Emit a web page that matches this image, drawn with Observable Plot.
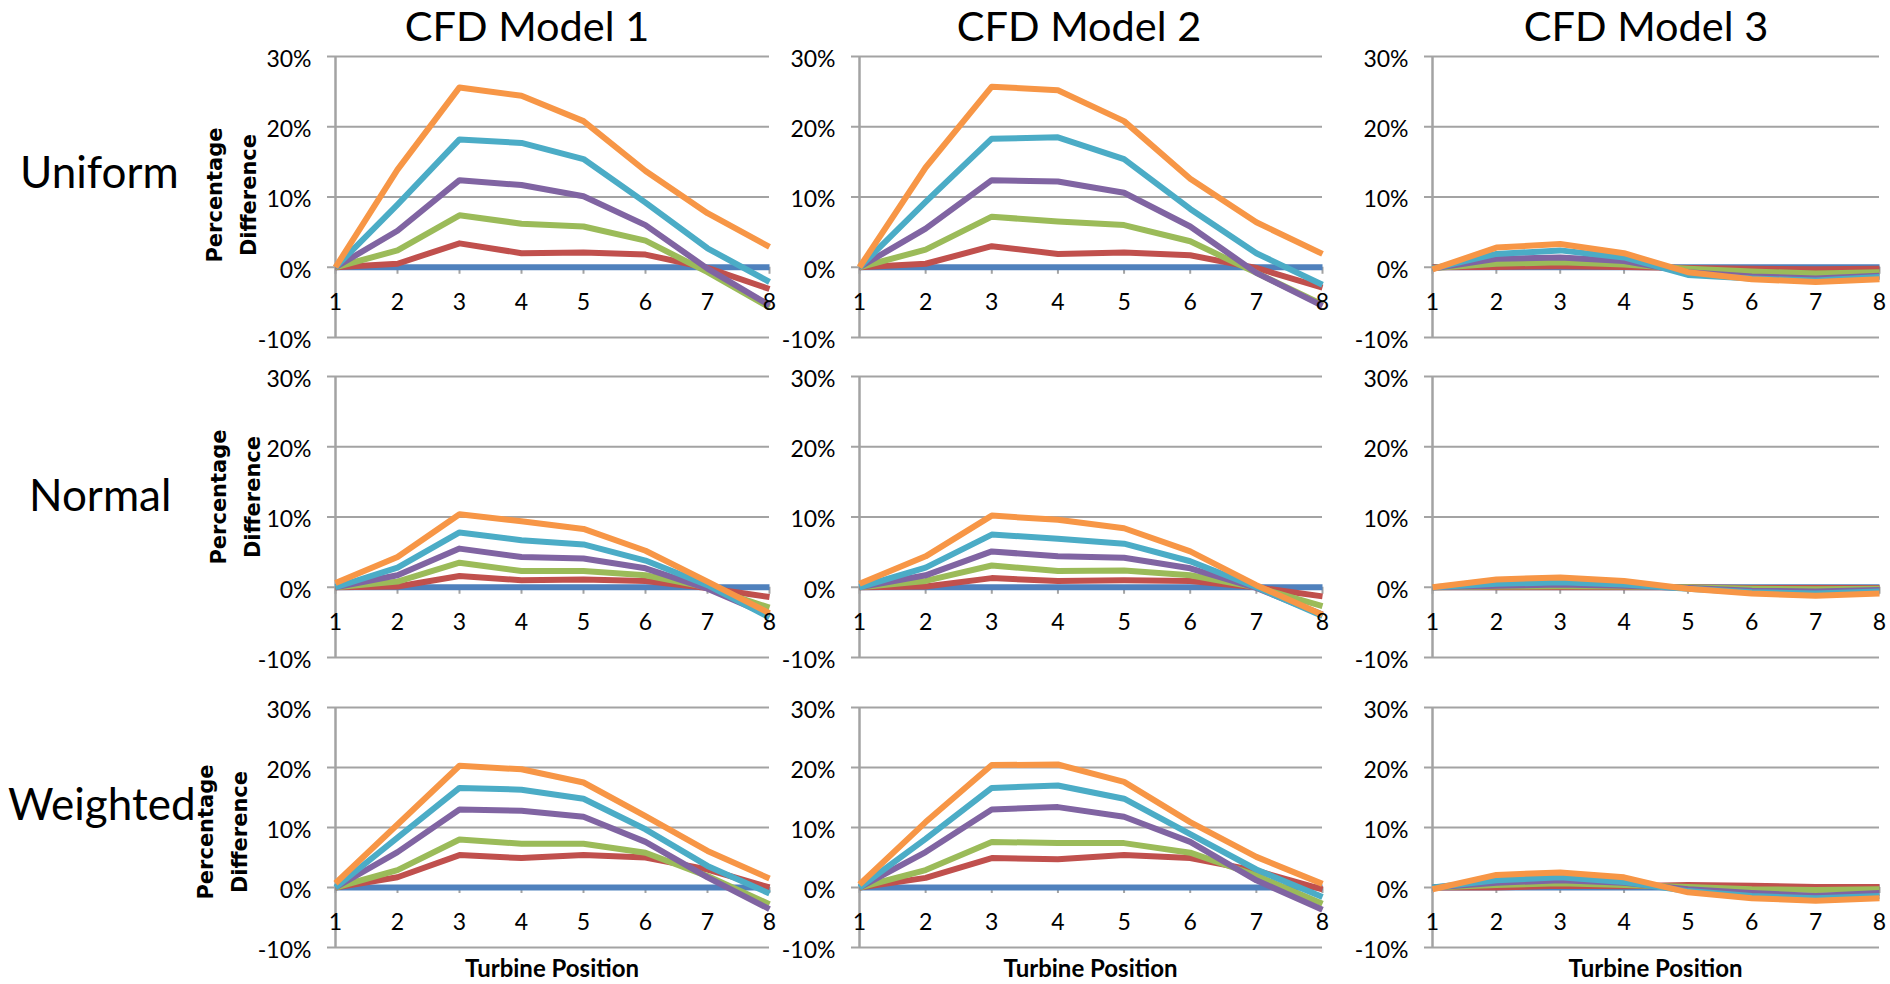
<!DOCTYPE html>
<html>
<head>
<meta charset="utf-8">
<script src="https://cdn.jsdelivr.net/npm/d3@7"></script>
<script src="https://cdn.jsdelivr.net/npm/@observablehq/plot@0.6"></script>
<style>
  html, body { margin: 0; padding: 0; background: #fff; }
  #chart { position: relative; width: 1890px; height: 984px; overflow: hidden; font-family: Lato, "Open Sans", sans-serif; color: #000; }
  .lbl { position: absolute; white-space: nowrap; line-height: 1.2; }
  .panel { position: absolute; }
  .ytitle { position: absolute; font-family: "DejaVu Sans", sans-serif; font-weight: bold; font-size: 21px; line-height: 34px; text-align: center; white-space: nowrap; transform: translate(-50%, -50%) rotate(-90deg); }
</style>
</head>
<body>
<div id="chart"></div>
<script>
// Turbine positions along each row of the wind farm and the percentage axis ticks
const positions = [1, 2, 3, 4, 5, 6, 7, 8];
const yTicks = [-10, 0, 10, 20, 30];

const models = ["CFD Model 1", "CFD Model 2", "CFD Model 3"];
const methods = ["Uniform", "Normal", "Weighted"];
const axisTitleX = "Turbine Position";
const axisTitleY = ["Percentage", "Difference"];

const seriesNames = ["series1", "series2", "series3", "series4", "series5", "series6"];
const seriesColors = ["#4F81BD", "#C0504D", "#9BBB59", "#8064A2", "#4BACC6", "#F79646"];

// Percentage difference per turbine position, one list per series (blue is the reference at 0)
const zeroLine = [0, 0, 0, 0, 0, 0, 0, 0];

const uniformModel1 = [
  zeroLine,
  [0, 0.5, 3.4, 2.0, 2.1, 1.8, -0.1, -3.1],
  [0, 2.4, 7.4, 6.2, 5.8, 3.8, -0.7, -5.7],
  [0, 5.2, 12.4, 11.7, 10.1, 6.0, -0.2, -5.4],
  [0, 8.9, 18.2, 17.7, 15.4, 9.2, 2.7, -2.1],
  [0, 13.9, 25.6, 24.4, 20.8, 13.7, 7.7, 2.9]
];
const uniformModel2 = [
  zeroLine,
  [0, 0.5, 3.0, 1.9, 2.1, 1.7, -0.1, -2.9],
  [0, 2.5, 7.2, 6.5, 6.0, 3.7, -0.8, -5.3],
  [0, 5.5, 12.4, 12.2, 10.6, 5.8, -0.8, -5.5],
  [0, 9.3, 18.3, 18.5, 15.4, 8.3, 2.0, -2.5],
  [0, 14.2, 25.7, 25.2, 20.8, 12.6, 6.4, 1.9]
];
const uniformModel3 = [
  zeroLine,
  [0, 0.05, 0.15, 0.05, -0.1, -0.2, -0.3, -0.2],
  [-0.1, 0.5, 0.7, 0.4, -0.2, -0.6, -0.9, -0.7],
  [-0.2, 1.2, 1.4, 0.9, -0.7, -1.3, -1.6, -1.2],
  [-0.2, 1.9, 2.4, 1.4, -1.1, -1.6, -1.9, -1.4],
  [-0.3, 2.8, 3.3, 2.0, -0.7, -1.7, -2.1, -1.7]
];

const normalModel1 = [
  zeroLine,
  [0, 0.1, 1.6, 1.0, 1.1, 0.9, -0.1, -1.4],
  [0, 0.8, 3.5, 2.3, 2.3, 1.7, 0, -2.9],
  [0, 1.7, 5.5, 4.3, 4.1, 2.7, -0.2, -4.0],
  [0, 2.8, 7.8, 6.7, 6.1, 3.8, 0.3, -4.3],
  [0.6, 4.3, 10.4, 9.4, 8.3, 5.2, 0.8, -3.7]
];
const normalModel2 = [
  zeroLine,
  [0, 0.1, 1.3, 0.9, 1.0, 0.9, 0, -1.3],
  [0, 0.9, 3.1, 2.3, 2.4, 1.7, 0, -2.7],
  [0, 1.7, 5.1, 4.4, 4.2, 2.7, -0.1, -3.9],
  [0, 2.8, 7.5, 6.9, 6.2, 3.7, 0, -4.1],
  [0.5, 4.4, 10.2, 9.6, 8.4, 5.1, 0.3, -3.9]
];
const normalModel3 = [
  zeroLine,
  [0, 0, 0, 0, 0, -0.1, -0.1, -0.1],
  [0, 0.1, 0.15, 0.1, 0, -0.2, -0.3, -0.2],
  [0, 0.2, 0.4, 0.2, -0.1, -0.5, -0.6, -0.4],
  [0, 0.5, 0.7, 0.4, -0.2, -0.7, -0.9, -0.6],
  [0, 1.1, 1.4, 0.9, -0.2, -0.9, -1.2, -0.9]
];

const weightedModel1 = [
  zeroLine,
  [0, 1.7, 5.4, 4.9, 5.4, 5.0, 3.0, 0],
  [0, 2.9, 8.0, 7.3, 7.3, 5.8, 1.9, -2.8],
  [0, 5.9, 13.0, 12.8, 11.8, 7.6, 1.7, -3.6],
  [0, 8.3, 16.6, 16.3, 14.8, 9.7, 3.6, -1.0],
  [0.7, 10.5, 20.3, 19.7, 17.5, 11.9, 6.1, 1.5]
];
const weightedModel2 = [
  zeroLine,
  [0, 1.6, 4.9, 4.7, 5.4, 4.9, 2.8, -0.3],
  [0, 2.9, 7.6, 7.4, 7.4, 5.8, 2.0, -2.7],
  [0, 5.9, 13.0, 13.4, 11.8, 7.6, 1.2, -3.7],
  [0, 8.1, 16.6, 17.0, 14.8, 8.9, 3.0, -1.6],
  [0.5, 10.9, 20.4, 20.5, 17.6, 10.9, 5.1, 0.6]
];
const weightedModel3 = [
  zeroLine,
  [0, 0, 0.3, 0.2, 0.4, 0.3, 0.1, 0.1],
  [0, 0.4, 0.7, 0.4, 0.1, -0.3, -0.4, -0.3],
  [0, 0.8, 1.2, 0.8, -0.3, -0.9, -1.4, -0.9],
  [0, 1.2, 1.7, 0.9, -0.6, -1.4, -1.8, -1.4],
  [-0.3, 2.1, 2.5, 1.7, -0.8, -1.8, -2.2, -1.8]
];

const panels = [
  [uniformModel1, uniformModel2, uniformModel3],
  [normalModel1, normalModel2, normalModel3],
  [weightedModel1, weightedModel2, weightedModel3]
];

// ---- layout ----
const colLeft = [255, 779, 1352];
const colSpan = [434, 463, 447];
const colRight = [12, 12, 10];
const rowTop = [40, 360, 691];
const rowSpan = [281, 281, 240];
const M = {left: 80, top: 16, bottom: 15};
const gridColor = "#a3a3a3";
const tickFont = 23;

const chart = document.getElementById("chart");

function panel(series, span, right, plotH) {
  const rows = series.flatMap((vals, s) =>
    vals.map((v, i) => ({series: seriesNames[s], pos: positions[i], value: v})));
  return Plot.plot({
    width: M.left + span + right,
    height: M.top + plotH + M.bottom,
    marginLeft: M.left, marginRight: right, marginTop: M.top, marginBottom: M.bottom,
    x: {domain: [1, 8], axis: null},
    y: {domain: [-10, 30], axis: null},
    color: {domain: seriesNames, range: seriesColors},
    style: {fontFamily: "Lato, 'Open Sans', sans-serif", fontSize: tickFont + "px", background: "transparent", overflow: "visible", color: "#000"},
    marks: [
      Plot.ruleY(yTicks, {stroke: gridColor, strokeWidth: 2, insetLeft: -8}),
      Plot.ruleX(positions, {x: d => d, y1: 0, y2: -1, stroke: gridColor, strokeWidth: 2}),
      Plot.ruleX([1], {stroke: gridColor, strokeWidth: 2.5}),
      Plot.line(rows, {x: "pos", y: "value", z: "series", stroke: "series", strokeWidth: 6,
        strokeLinejoin: "round", strokeLinecap: "butt"}),
      Plot.text(yTicks, {x: 1, y: d => d, text: d => `${d}%`, textAnchor: "end", dx: -24, dy: 3, fontSize: tickFont, fill: "#000"}),
      Plot.text(positions, {x: d => d, y: 0, text: d => String(d), dy: 35, fontSize: tickFont, fill: "#000"})
    ]
  });
}

panels.forEach((row, r) => {
  row.forEach((series, c) => {
    const svg = panel(series, colSpan[c], colRight[c], rowSpan[r]);
    const wrap = document.createElement("div");
    wrap.className = "panel";
    wrap.style.left = colLeft[c] + "px";
    wrap.style.top = rowTop[r] + "px";
    wrap.appendChild(svg);
    chart.appendChild(wrap);
  });
});

// Text placed by its baseline (Lato ascent 0.987em with line-height 1.2)
function addText(text, {x, baseline, size, weight = "normal", align = "left"}) {
  const d = document.createElement("div");
  d.className = "lbl";
  d.textContent = text;
  d.style.fontSize = size + "px";
  d.style.fontWeight = weight;
  d.style.top = (baseline - 0.987 * size) + "px";
  d.style.left = x + "px";
  if (align === "center") d.style.transform = "translateX(-50%)";
  chart.appendChild(d);
}

// Column titles
const titleCenters = [527, 1079, 1646];
models.forEach((m, c) => addText(m, {x: titleCenters[c], baseline: 42, size: 41.5, align: "center"}));

// Row titles
const rowTitleLeft = [20, 29, 8];
const rowTitleBase = [188, 511, 820];
methods.forEach((m, r) => addText(m, {x: rowTitleLeft[r], baseline: rowTitleBase[r], size: 44}));

// Value axis titles on the first column
const yTitleX = [232, 236, 223];
const yTitleY = [195, 497, 832];
yTitleX.forEach((x, r) => {
  const d = document.createElement("div");
  d.className = "ytitle";
  d.innerHTML = axisTitleY.join("<br>");
  d.style.left = x + "px";
  d.style.top = yTitleY[r] + "px";
  chart.appendChild(d);
});

// Category axis titles under the bottom row
colLeft.forEach((l, c) => {
  const center = l + M.left + colSpan[c] / 2;
  addText(axisTitleX, {x: center, baseline: 978, size: 24, weight: "bold", align: "center"});
});
</script>
</body>
</html>
